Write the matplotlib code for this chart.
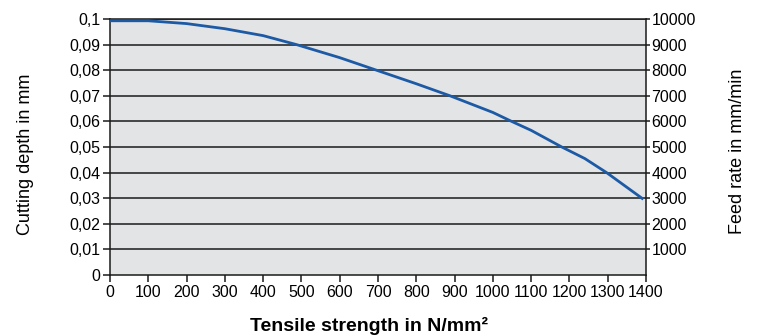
import numpy as np
import matplotlib.pyplot as plt
from matplotlib.ticker import FuncFormatter

plt.rcParams['font.family'] = ['Liberation Sans', 'DejaVu Sans']

# Daten: Zugfestigkeit vs. Schnitttiefe
strength = [0, 100, 200, 300, 400, 487, 600, 696, 800, 888, 1000, 1049, 1100, 1180, 1240, 1297, 1393]
depth = [0.0993, 0.0993, 0.0982, 0.0962, 0.0935, 0.0900, 0.0849, 0.0800, 0.0747, 0.0700,
         0.0635, 0.0600, 0.0565, 0.0500, 0.0455, 0.0400, 0.0296]

x_ticks = list(range(0, 1401, 100))
y_ticks = [i / 100 for i in range(0, 11)]
feed_ticks = list(range(1000, 10001, 1000))

W, H = 757, 336
fig = plt.figure(figsize=(W / 100, H / 100), dpi=100)
ax = fig.add_axes([0.1453, 0.1815, 0.7081, 0.762])
ax.set_facecolor('#e3e4e6')

for y in y_ticks[1:]:
    ax.axhline(y, color='#1a1a1a', lw=1.1, zorder=1)

ax.plot(strength, depth, color='#1d5aa6', lw=2, zorder=3,
        solid_joinstyle='round', solid_capstyle='butt')

ax.set_xlim(0, 1400)
ax.set_ylim(0, 0.1)
ax.set_xticks(x_ticks)
ax.set_yticks(y_ticks)

def fmt(v, pos):
    if v == 0:
        return '0'
    s = f'{v:.2f}'.rstrip('0')
    return s.replace('.', ',')

ax.yaxis.set_major_formatter(FuncFormatter(fmt))
ax.tick_params(axis='both', labelsize=11.5, length=5, width=1.1, color='#1a1a1a', pad=2)
for sp in ax.spines.values():
    sp.set_color('#1a1a1a')
    sp.set_linewidth(1.1)

ax2 = ax.twinx()
ax2.set_ylim(0, 10000)
ax2.set_yticks(feed_ticks)
ax2.tick_params(axis='y', labelsize=11.5, length=3, width=1.1, color='#1a1a1a', pad=1)
for sp in ax2.spines.values():
    sp.set_visible(False)

# Achsentitel frei positioniert (Pixel -> Figurkoordinaten)
fig.text(369 / W, 1 - 326 / H, 'Tensile strength in N/mm²', fontsize=14,
         fontweight='bold', ha='center', va='center')
fig.text(25 / W, 1 - 154 / H, 'Cutting depth in mm', fontsize=13,
         rotation=90, ha='center', va='center')
fig.text(738 / W, 1 - 151 / H, 'Feed rate in mm/min', fontsize=13,
         rotation=90, ha='center', va='center')

fig.savefig('out.png', dpi=100)
